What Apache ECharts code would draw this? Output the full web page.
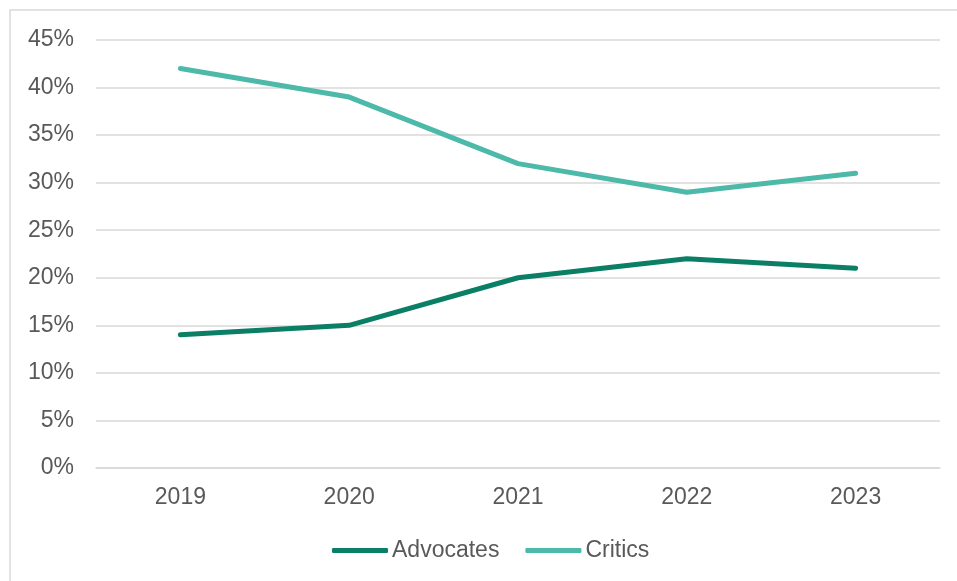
<!DOCTYPE html>
<html>
<head>
<meta charset="utf-8">
<script src="https://cdn.jsdelivr.net/npm/echarts@6/dist/echarts.min.js"></script>
<style>
  html, body { margin: 0; padding: 0; background: #ffffff; }
  #chart { width: 957px; height: 581px; }
</style>
</head>
<body>
<div id="chart"></div>
<script>
// Survey years and share of respondents (%) per group
const years = ['2019', '2020', '2021', '2022', '2023'];
const advocates = [14, 15, 20, 22, 21];
const critics = [42, 39, 32, 29, 31];
const seriesNames = ['Advocates', 'Critics'];

const textColor = '#595959';
const fontFamily = 'Liberation Sans, Arial, sans-serif';
const fontSize = 23;

const chart = echarts.init(document.getElementById('chart'), null, { renderer: 'canvas' });

chart.setOption({
  animation: false,
  backgroundColor: '#ffffff',
  graphic: [{
    type: 'rect',
    shape: { x: 10, y: 10, width: 960, height: 590 },
    style: { fill: 'none', stroke: '#d9d9d9', lineWidth: 1.5 },
    silent: true
  }],
  grid: { left: 96, right: 17, top: 40, bottom: 113, containLabel: false },
  legend: {
    data: seriesNames,
    bottom: 19,
    left: 332,
    padding: 0,
    icon: 'roundRect',
    itemWidth: 56,
    itemHeight: 5,
    itemGap: 26,
    textStyle: { color: textColor, fontSize: fontSize, fontFamily: fontFamily, padding: [0, 0, 0, -1] }
  },
  xAxis: {
    type: 'category',
    data: years,
    boundaryGap: true,
    axisLine: { show: true, lineStyle: { color: '#d9d9d9', width: 1.5 } },
    axisTick: { show: false },
    axisLabel: { color: textColor, fontSize: fontSize, fontFamily: fontFamily, margin: 18 }
  },
  yAxis: {
    type: 'value',
    min: 0,
    max: 45,
    interval: 5,
    axisLine: { show: false },
    axisTick: { show: false },
    splitLine: { lineStyle: { color: '#d9d9d9', width: 1.5 } },
    axisLabel: {
      color: textColor, fontSize: fontSize, fontFamily: fontFamily, margin: 22,
      formatter: v => v + '%'
    }
  },
  series: [
    {
      name: seriesNames[0],
      type: 'line',
      data: advocates,
      color: '#0b7f66',
      symbol: 'none',
      lineStyle: { width: 5, cap: 'round', join: 'round' }
    },
    {
      name: seriesNames[1],
      type: 'line',
      data: critics,
      color: '#4cb9a9',
      symbol: 'none',
      lineStyle: { width: 5, cap: 'round', join: 'round' }
    }
  ]
});
</script>
</body>
</html>
